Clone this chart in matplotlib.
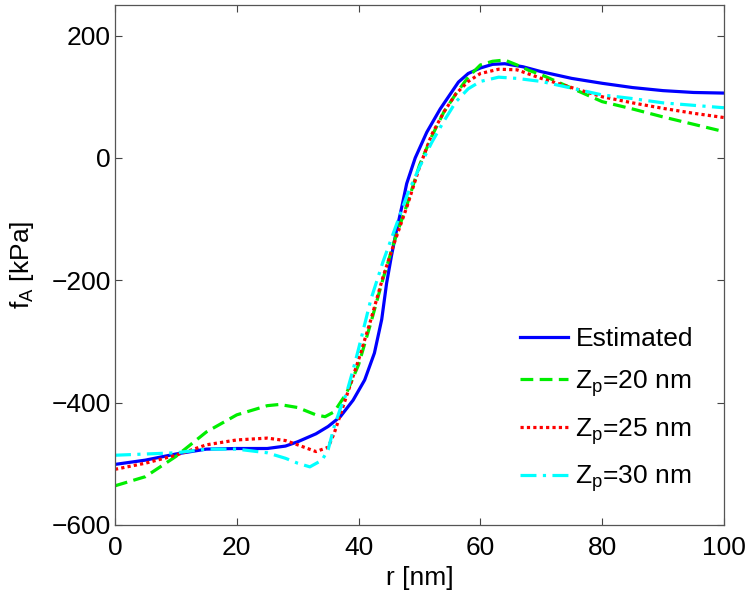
import numpy as np
import matplotlib
matplotlib.use("Agg")
import matplotlib.pyplot as plt

plt.rcParams["font.family"] = ["Liberation Sans", "DejaVu Sans"]
plt.rcParams["mathtext.fontset"] = "custom"
plt.rcParams["mathtext.rm"] = "Liberation Sans"
plt.rcParams["mathtext.it"] = "Liberation Sans:italic"

# Estimated profile
r_est = [0, 5, 10, 15, 20, 25, 28, 30, 33, 35, 37, 39.1, 41.0, 42.6, 43.8, 44.6,
         45.4, 46.2, 47.1, 47.9, 49.3, 51.2, 53.4, 56.4, 58, 60, 62, 64, 67, 70,
         75, 80, 85, 90, 95, 100]
f_est = [-501, -494, -484, -476, -475, -475, -471, -464, -451, -439, -423, -396,
         -363, -319, -264, -205, -160, -120, -80, -42, 0, 42, 80, 124, 138, 147,
         153, 154, 149, 141, 130, 122, 115, 110, 107, 106]

# Zp = 20 nm
r_20 = [0, 5, 10, 15, 20, 25, 27, 30, 33, 34.5, 36, 38, 40, 42, 44, 46, 48, 50,
        52, 54, 56, 58, 60, 62, 64, 66, 68, 70, 75, 80, 85, 90, 95, 100]
f_20 = [-536, -521, -488, -448, -420, -405, -403, -408, -420, -423, -415, -385,
        -338, -270, -198, -132, -75, -12, 35, 75, 105, 132, 152, 158, 160, 152,
        143, 136, 114, 92, 80, 67, 55, 43]

# Zp = 25 nm
r_25 = [0, 5, 10, 15, 20, 25, 28, 30, 33, 35, 36, 37, 38, 40, 42, 44, 46, 48, 50,
        52, 54, 56, 58, 60, 63, 66, 70, 75, 80, 85, 90, 95, 100]
f_25 = [-509, -499, -486, -469, -461, -458, -462, -469, -480, -473, -450, -420,
        -390, -330, -265, -195, -135, -78, -15, 38, 75, 105, 125, 138, 145, 144,
        130, 115, 100, 90, 81, 73, 66]

# Zp = 30 nm
r_30 = [0, 5, 10, 15, 20, 25, 28, 30, 32, 34, 35, 36, 37, 38, 39, 40, 42, 44, 46,
        48, 50, 52, 54, 56, 58, 60, 63, 66, 70, 75, 80, 85, 90, 95, 100]
f_30 = [-486, -484, -482, -476, -476, -482, -491, -499, -505, -494, -477, -439,
        -410, -385, -350, -312, -232, -170, -115, -60, -15, 25, 60, 92, 113, 125,
        132, 130, 125, 114, 103, 97, 90, 86, 82]

fig = plt.figure(figsize=(7.5, 5.94), dpi=100)
ax = fig.add_axes([0.1533, 0.1162, 0.812, 0.8754])

ax.plot(r_est, f_est, color="#0000ff", lw=2.3, ls="-", label="Estimated")
ax.plot(r_20, f_20, color="#00ee00", lw=2.3, ls=(0, (4, 2)), label="Z$_\\mathrm{p}$=20 nm")
ax.plot(r_25, f_25, color="#ff0000", lw=2.3, ls=(0, (1, 1)), label="Z$_\\mathrm{p}$=25 nm")
ax.plot(r_30, f_30, color="#00ffff", lw=2.3, ls=(0, (5, 2, 1, 2)), label="Z$_\\mathrm{p}$=30 nm")

ax.set_xlim(0, 100)
ax.set_ylim(-600, 250)
ax.set_xticks([0, 20, 40, 60, 80, 100])
ax.set_yticks([-600, -400, -200, 0, 200])
ax.tick_params(direction="in", length=5, width=0.8, top=True, right=True,
               labelsize=19, colors="#444444", labelcolor="black", pad=3)
ax.tick_params(axis="x", pad=8)
for s in ax.spines.values():
    s.set_color("#555555")
    s.set_linewidth(0.9)

ax.set_xlabel("r [nm]", fontsize=19, labelpad=4)
ax.set_ylabel("f$_\\mathrm{A}$ [kPa]", fontsize=19, labelpad=11)

ax.legend(loc="lower right", bbox_to_anchor=(0.988, 0.013), frameon=False,
          fontsize=19, handlelength=1.8, handletextpad=0.3, labelspacing=0.65)

fig.savefig("out.png", dpi=100)
